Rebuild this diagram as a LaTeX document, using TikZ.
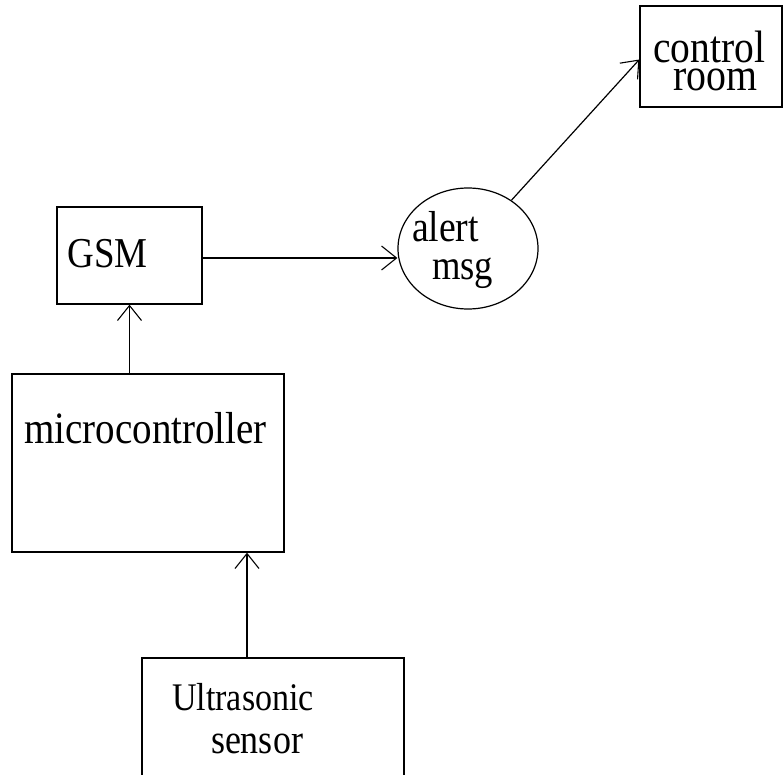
\documentclass[tikz,border=0pt]{standalone}
\usepackage{fontspec}
\setmainfont{Liberation Serif}
\usetikzlibrary{arrows.meta,shapes.geometric}
\tikzset{
  blk/.style={draw=black, line width=1.3pt, rectangle, inner sep=0pt},
  txt/.style={inner sep=0pt, anchor=base},
  arr/.style={line width=1.2pt, -{Straight Barb[length=15pt,width=24pt,line width=1.1pt]}},
  ln/.style={line width=1.2pt}
}
\newcommand{\tx}[2]{{\fontsize{#1}{#1}\selectfont\scalebox{1}[1.15]{#2}}}
\begin{document}
\begin{tikzpicture}[x=1pt,y=-1pt]
\useasboundingbox (0,0) rectangle (784,775);
\fill[white] (0,0) rectangle (784,775);
\clip (0,0) rectangle (784,775);
% boxes
\node[blk, minimum width=142pt, minimum height=101pt] (ctrl) at (711,56.5) {};
\node[draw=black, line width=1.2pt, ellipse, minimum width=140pt, minimum height=121pt, inner sep=0pt] (alert) at (468,248.5) {};
\node[blk, minimum width=145pt, minimum height=97pt] (gsm) at (129.5,255.5) {};
\node[blk, minimum width=272pt, minimum height=178pt] (micro) at (148,463) {};
\node[blk, minimum width=262pt, minimum height=150pt] (us) at (273,733) {};
% texts
\node[inner sep=0pt, anchor=base west] (tctrl) at (653,91)
  {\rlap{\raisebox{28pt}{\tx{39.5}{control}}}\hspace*{20pt}\tx{39.8}{room}};
\node[txt] (talert) at (445.5,242) {\tx{37.7}{alert}};
\node[txt] (tmsg) at (462.5,280) {\tx{36.6}{msg}};
\node[txt] (tgsm) at (107.5,268) {\tx{37}{GSM}};
\node[txt] (tmicro) at (145.5,443) {\tx{39}{microcontroller}};
\node[txt] (tus) at (243,710) {\tx{34}{Ultrasonic}};
\node[txt] (tsens) at (257,753) {\tx{36}{sensor}};
% connectors
\coordinate (ay) at (0,258);
\coordinate (usx) at (247,0);
\draw[arr] (gsm.east |- ay) -- (alert.west |- ay);
\draw[arr] (alert.48) -- ([yshift=-3pt]ctrl.west);
\draw[arr] (micro.north -| gsm.south) -- (gsm.south);
\draw[arr] (us.north -| usx) -- (micro.south -| usx);
\end{tikzpicture}
\end{document}
